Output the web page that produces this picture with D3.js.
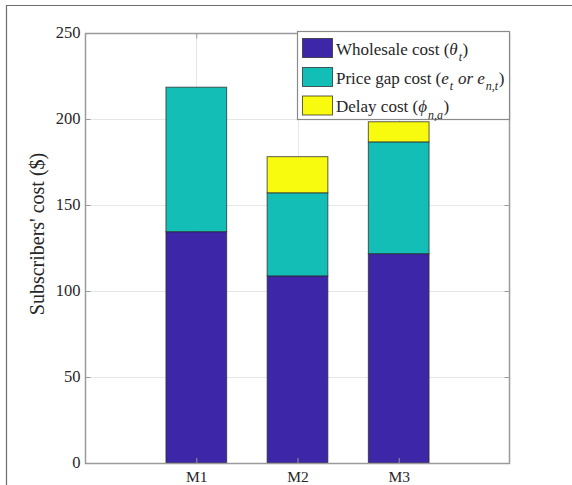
<!DOCTYPE html>
<html>
<head>
<meta charset="utf-8">
<script src="https://cdn.jsdelivr.net/npm/d3@7"></script>
<style>
  html, body { margin: 0; padding: 0; background: #fff; }
  svg text { font-family: "Liberation Serif", "Times New Roman", Times, serif; }
</style>
</head>
<body>
<svg id="chart" width="572" height="485"></svg>
<script>
// Subscribers' cost per mechanism, split into three stacked components
const categories = ["M1", "M2", "M3"];
const wholesale = [134.5, 108.8, 121.7];
const priceGap  = [84.0, 48.3, 65.0];
const delay     = [0.0, 21.0, 11.7];
const yTicks = [0, 50, 100, 150, 200, 250];

const seriesKeys = ["wholesale", "priceGap", "delay"];
const colors = { wholesale: "#3E26A8", priceGap: "#13BEB7", delay: "#F9FB0E" };
const FONT = '"Liberation Serif", "Times New Roman", Times, serif';

const rows = categories.map((c, i) => ({
  cat: c, idx: i + 1,
  wholesale: wholesale[i], priceGap: priceGap[i], delay: delay[i]
}));

const svg = d3.select("#chart").attr("font-family", FONT);
const L = 85, R = 510, T = 33, B = 463;

const x = d3.scaleLinear().domain([-0.1, 4.1]).range([L, R]);
const y = d3.scaleLinear().domain([0, 250]).range([B, T]);
const barW = x(0.6) - x(0);

// outer frame lines
svg.append("line").attr("x1", 6).attr("x2", 572).attr("y1", 5.5).attr("y2", 5.5)
  .attr("stroke", "#6e6e6e").attr("stroke-width", 1.2);
svg.append("line").attr("x1", 6.5).attr("x2", 6.5).attr("y1", 5).attr("y2", 485)
  .attr("stroke", "#6e6e6e").attr("stroke-width", 1.2);

// grid
const grid = svg.append("g").attr("stroke", "#e6e6e6").attr("stroke-width", 1);
yTicks.slice(1, -1).forEach(v => {
  grid.append("line").attr("x1", L).attr("x2", R).attr("y1", Math.round(y(v)) + 0.5).attr("y2", Math.round(y(v)) + 0.5);
});
rows.forEach(r => {
  grid.append("line").attr("x1", Math.round(x(r.idx)) + 0.5).attr("x2", Math.round(x(r.idx)) + 0.5).attr("y1", T).attr("y2", B);
});

// stacked bars
const stack = d3.stack().keys(seriesKeys)(rows);
svg.append("g").selectAll("g").data(stack).join("g")
  .attr("fill", d => colors[d.key])
  .selectAll("rect").data(d => d.filter(p => p[1] - p[0] > 0)).join("rect")
  .attr("x", d => x(d.data.idx) - barW / 2)
  .attr("width", barW)
  .attr("y", d => y(d[1]))
  .attr("height", d => y(d[0]) - y(d[1]))
  .attr("stroke", "#2a2a2a")
  .attr("stroke-opacity", 0.75)
  .attr("stroke-width", 1);

// axes box
const axisColor = "#9a9a9a";
svg.append("rect").attr("x", L + 0.5).attr("y", T + 0.5).attr("width", R - L - 1).attr("height", B - T)
  .attr("fill", "none").attr("stroke", axisColor).attr("stroke-width", 1.5);

// y ticks (inward, both sides) and labels
const yAxisL = d3.axisLeft(y).tickValues(yTicks).tickSize(-5).tickPadding(5).tickFormat(d3.format("d"));
const gyl = svg.append("g").attr("transform", `translate(${L + 0.5},0)`).call(yAxisL)
  .attr("font-family", FONT).attr("font-size", 16.5);
gyl.select(".domain").remove();
gyl.selectAll(".tick line").attr("stroke", axisColor);
gyl.selectAll(".tick text").attr("fill", "#262626").attr("dy", "0.25em");

const yAxisR = d3.axisRight(y).tickValues(yTicks).tickSize(-5).tickFormat("");
const gyr = svg.append("g").attr("transform", `translate(${R - 0.5},0)`).call(yAxisR);
gyr.select(".domain").remove();
gyr.selectAll(".tick line").attr("stroke", axisColor);

// x ticks (inward, bottom and top) and labels
const xAxisB = d3.axisBottom(x).tickValues(rows.map(r => r.idx)).tickSize(-5).tickPadding(7.5)
  .tickFormat(d => categories[d - 1]);
const gxb = svg.append("g").attr("transform", `translate(0,${B})`).call(xAxisB)
  .attr("font-family", FONT).attr("font-size", 15.5);
gxb.select(".domain").remove();
gxb.selectAll(".tick line").attr("stroke", axisColor);
gxb.selectAll(".tick text").attr("fill", "#262626");

const xAxisT = d3.axisTop(x).tickValues(rows.map(r => r.idx)).tickSize(-5).tickFormat("");
const gxt = svg.append("g").attr("transform", `translate(0,${T + 0.5})`).call(xAxisT);
gxt.select(".domain").remove();
gxt.selectAll(".tick line").attr("stroke", axisColor);

// y axis title
svg.append("text")
  .attr("transform", "translate(44,234) rotate(-90)")
  .attr("text-anchor", "middle")
  .attr("font-size", 20)
  .attr("fill", "#262626")
  .text("Subscribers' cost ($)");

// legend
const lg = svg.append("g");
lg.append("rect").attr("x", 297.5).attr("y", 31.5).attr("width", 212).attr("height", 88)
  .attr("fill", "#fff").attr("stroke", "#8a8a8a").attr("stroke-width", 1.2);

// each label: [text, style] where i = italic, s = subscript
const legendItems = [
  { key: "wholesale", parts: [["Wholesale cost (", ""], ["θ", "i"], ["t", "is"], [")", ""]] },
  { key: "priceGap", parts: [["Price gap cost (", ""], ["e", "i"], ["t", "is"], [" or ", "i"], ["e", "i"], ["n,t", "is"], [")", ""]] },
  { key: "delay", parts: [["Delay cost (", ""], ["ϕ", "i"], ["n,a", "is"], [")", ""]] }
];
const rowY = [48, 77, 105.5];
legendItems.forEach((it, i) => {
  lg.append("rect").attr("x", 302.5).attr("y", rowY[i] - 9.5).attr("width", 30).attr("height", 19)
    .attr("fill", colors[it.key]).attr("stroke", "#2a2a2a").attr("stroke-opacity", 0.75);
  const t = lg.append("text").attr("x", 336).attr("y", rowY[i] + 6.5)
    .attr("font-size", 17).attr("fill", "#262626");
  it.parts.forEach(([s, st], k) => {
    const prev = k > 0 ? it.parts[k - 1][1] : "";
    const ts = t.append("tspan").text(s);
    if (st.includes("i")) ts.attr("font-style", "italic");
    if (st.includes("s")) ts.attr("font-size", 12).attr("dy", 6.5).attr("dx", 1);
    else if (prev.includes("s")) ts.attr("dy", -6.5).attr("dx", 0.5);
  });
});
</script>
</body>
</html>
